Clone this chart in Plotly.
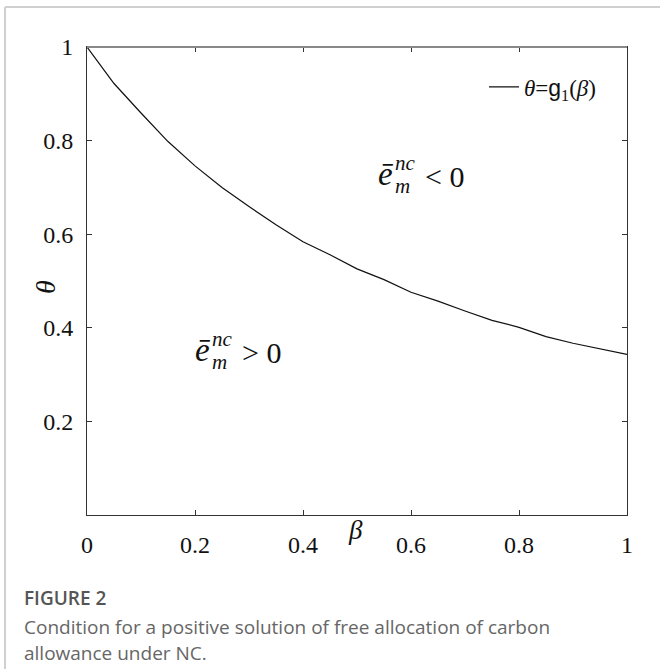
import plotly.graph_objects as go

beta = [0.0, 0.05, 0.10, 0.15, 0.20, 0.25, 0.30, 0.35, 0.40, 0.45, 0.50,
        0.55, 0.60, 0.65, 0.70, 0.75, 0.80, 0.85, 0.90, 0.95, 1.00]
theta = [1.000, 0.922, 0.859, 0.798, 0.746, 0.700, 0.659, 0.620, 0.584, 0.556, 0.526,
         0.503, 0.476, 0.457, 0.436, 0.416, 0.401, 0.381, 0.367, 0.355, 0.343]

tick_vals_x = [0, 0.2, 0.4, 0.6, 0.8, 1]
tick_text_x = ["0", "0.2", "0.4", "0.6", "0.8", "1"]
tick_vals_y = [0.2, 0.4, 0.6, 0.8, 1]
tick_text_y = ["0.2", "0.4", "0.6", "0.8", "1"]

W, H = 660, 669
L, R, T, B = 87, 627, 47, 515
pw, ph = R - L, B - T


def px(x):
    return (x - L) / pw


def py(y):
    return (B - y) / ph


SERIF = "Liberation Serif"
SANS = "Open Sans"

fig = go.Figure()
fig.add_trace(go.Scatter(
    x=beta, y=theta, mode="lines",
    line=dict(color="#111111", width=1.2),
    name="<i>θ</i>=<span style='font-family:Liberation Sans'>g</span><sub>1</sub>(<i>β</i>)",
    showlegend=True,
))

axis_common = dict(
    showgrid=False, zeroline=False, showline=True, mirror="allticks",
    linecolor="#333333", linewidth=1, ticks="inside", ticklen=5,
    tickcolor="#333333", tickfont=dict(family=SERIF, size=24, color="#111111"),
)

fig.update_xaxes(range=[0, 1], tickvals=tick_vals_x, ticktext=tick_text_x,
                 ticklabelstandoff=8, **axis_common)
fig.update_yaxes(range=[0, 1], tickvals=tick_vals_y, ticktext=tick_text_y,
                 ticklabelstandoff=8, **axis_common)

ann = []
# axis titles
ann.append(dict(x=px(355), y=py(530), xref="paper", yref="paper", text="<i>β</i>",
                showarrow=False, font=dict(family=SERIF, size=27, color="#111111"),
                xanchor="center", yanchor="middle"))
ann.append(dict(x=px(45), y=py(287), xref="paper", yref="paper", text="<i>θ</i>",
                showarrow=False, textangle=-90, font=dict(family=SERIF, size=28, color="#111111"),
                xanchor="center", yanchor="middle"))


def region_label(ex, ey, sign):
    out = []
    f_big = dict(family=SERIF, size=30, color="#111111")
    f_e = dict(family=SERIF, size=33, color="#111111")
    f_small = dict(family=SERIF, size=21, color="#111111")
    out.append(dict(x=px(ex), y=py(ey), xref="paper", yref="paper", text="<i>ē</i>",
                    showarrow=False, font=f_e, xanchor="center", yanchor="middle"))
    out.append(dict(x=px(ex + 7), y=py(ey - 11), xref="paper", yref="paper", text="<i>nc</i>",
                    showarrow=False, font=f_small, xanchor="left", yanchor="middle"))
    out.append(dict(x=px(ex + 7), y=py(ey + 12), xref="paper", yref="paper", text="<i>m</i>",
                    showarrow=False, font=f_small, xanchor="left", yanchor="middle"))
    out.append(dict(x=px(ex + 37), y=py(ey + 2), xref="paper", yref="paper", text=sign + " 0",
                    showarrow=False, font=f_big, xanchor="left", yanchor="middle"))
    return out


ann += region_label(386, 174, "&lt;")
ann += region_label(203, 350, "&gt;")

# caption
ann.append(dict(x=px(22), y=py(598), xref="paper", yref="paper", text="FIGURE 2",
                showarrow=False, font=dict(family=SANS, size=19, color="#555555", weight=600),
                xanchor="left", yanchor="middle"))
ann.append(dict(x=px(22), y=py(627), xref="paper", yref="paper",
                text="Condition for a positive solution of free allocation of carbon",
                showarrow=False, font=dict(family=SANS, size=19, color="#666666"),
                xanchor="left", yanchor="middle"))
ann.append(dict(x=px(22), y=py(653), xref="paper", yref="paper",
                text="allowance under NC.",
                showarrow=False, font=dict(family=SANS, size=19, color="#666666"),
                xanchor="left", yanchor="middle"))

shapes = [
    dict(type="line", xref="paper", yref="paper", x0=px(5), x1=px(660), y0=py(7), y1=py(7),
         line=dict(color="#d0d0d0", width=2)),
    dict(type="line", xref="paper", yref="paper", x0=px(5), x1=px(5), y0=py(7), y1=py(669),
         line=dict(color="#d0d0d0", width=2)),
    dict(type="line", xref="paper", yref="paper", x0=0, x1=1, y0=1, y1=1,
         line=dict(color="#888888", width=2)),
]

fig.update_layout(
    width=W, height=H,
    margin=dict(l=L, r=W - R, t=T, b=H - B),
    paper_bgcolor="white", plot_bgcolor="white",
    annotations=ann, shapes=shapes,
    legend=dict(x=px(484), y=py(87), xanchor="left", yanchor="middle",
                bgcolor="rgba(0,0,0,0)", borderwidth=0,
                font=dict(family=SERIF, size=23, color="#111111"),
                itemwidth=30),
)

fig.write_html("out.html", config={"displayModeBar": False},
               post_script="document.body.style.margin='0px';")
